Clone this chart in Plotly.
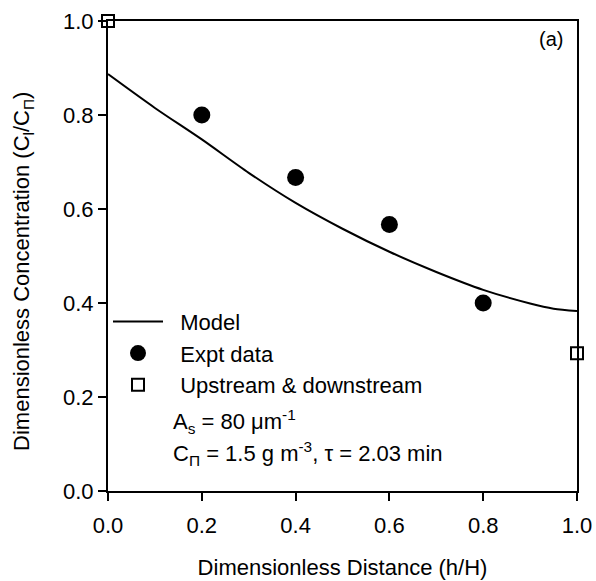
import plotly.graph_objects as go

# Data
model_x = [0.0, 0.1, 0.2, 0.3, 0.4, 0.5, 0.6, 0.7, 0.8, 0.9, 0.95, 1.0]
model_y = [0.887, 0.815, 0.748, 0.677, 0.613, 0.558, 0.509, 0.466, 0.428, 0.399, 0.388, 0.383]
expt_x = [0.2, 0.4, 0.6, 0.8]
expt_y = [0.800, 0.667, 0.567, 0.400]
bound_x = [0.0, 1.0]
bound_y = [1.0, 0.293]
tick_vals = [0.0, 0.2, 0.4, 0.6, 0.8, 1.0]
tick_text = ["0.0", "0.2", "0.4", "0.6", "0.8", "1.0"]

FONT = "Liberation Sans, Arial, Helvetica, sans-serif"
FS = 22

fig = go.Figure()
fig.add_trace(go.Scatter(x=model_x, y=model_y, mode="lines", name="&nbsp;&nbsp;Model",
                         line=dict(color="black", width=2, shape="spline", smoothing=0.8),
                         cliponaxis=False))
fig.add_trace(go.Scatter(x=expt_x, y=expt_y, mode="markers", name="&nbsp;&nbsp;Expt data",
                         marker=dict(symbol="circle", size=17, color="black"),
                         cliponaxis=False))
fig.add_trace(go.Scatter(x=bound_x, y=bound_y, mode="markers",
                         name="&nbsp;&nbsp;Upstream & downstream",
                         marker=dict(symbol="square", size=12, color="white",
                                     line=dict(color="black", width=2)),
                         cliponaxis=False))

axis_common = dict(range=[0, 1], tickvals=tick_vals, ticktext=tick_text,
                   ticks="outside", ticklen=8, tickwidth=2, tickcolor="black",
                   showline=True, linecolor="black", linewidth=2, mirror=True,
                   showgrid=False, zeroline=False, automargin=False,
                   tickfont=dict(family=FONT, size=FS, color="black"))

fig.update_xaxes(**axis_common, ticklabelstandoff=6,
                 title=dict(text="Dimensionless Distance (h/H)",
                            font=dict(family=FONT, size=FS, color="black"),
                            standoff=22))
fig.update_yaxes(**axis_common,
                 title=dict(text="Dimensionless Concentration (C<sub>l</sub>/C<sub>Π</sub>)"
                                 "&nbsp;&nbsp;&nbsp;&nbsp;&nbsp;",
                            font=dict(family=FONT, size=FS, color="black"),
                            standoff=27))

fig.add_annotation(x=0.975, y=0.99, xref="paper", yref="paper", xanchor="right", yanchor="top",
                   text="(a)", showarrow=False, font=dict(family=FONT, size=20, color="black"))
fig.add_annotation(x=0.135, y=0.148, xref="paper", yref="paper", xanchor="left", yanchor="middle",
                   text="A<sub>s</sub> = 80 μm<sup>-1</sup>", showarrow=False,
                   font=dict(family=FONT, size=FS, color="black"))
fig.add_annotation(x=0.135, y=0.080, xref="paper", yref="paper", xanchor="left", yanchor="middle",
                   text="C<sub>Π</sub> = 1.5 g m<sup>-3</sup>, τ = 2.03 min", showarrow=False,
                   font=dict(family=FONT, size=FS, color="black"))

fig.update_layout(
    width=596, height=581,
    margin=dict(l=108, r=19, t=21, b=90),
    plot_bgcolor="white", paper_bgcolor="white",
    showlegend=True,
    legend=dict(x=0.0, y=0.405, xanchor="left", yanchor="top",
                bgcolor="rgba(0,0,0,0)", borderwidth=0,
                font=dict(family=FONT, size=FS, color="black"),
                itemwidth=50, tracegroupgap=0),
)

fig.write_html("out.html")
